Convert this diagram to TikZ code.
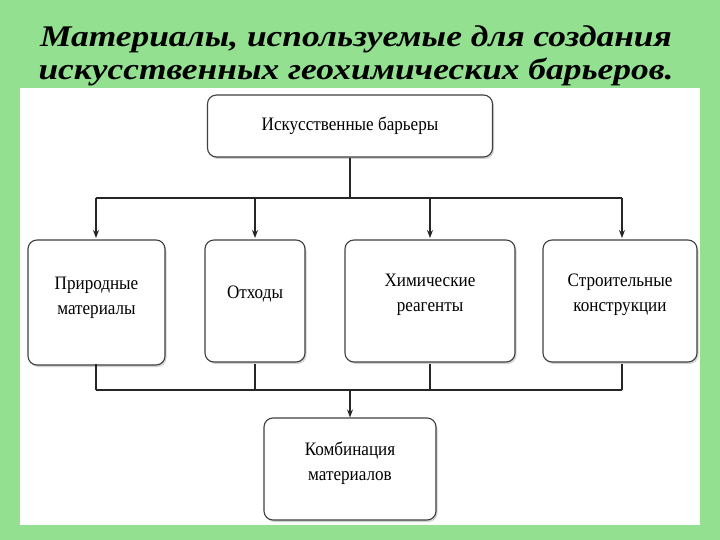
\documentclass[tikz,border=0pt]{standalone}
\usepackage{fontspec}
\setmainfont{Liberation Serif}
\usetikzlibrary{shadows,arrows.meta}
\definecolor{bg}{HTML}{93E091}
\begin{document}
\begin{tikzpicture}[x=1pt,y=-1pt,
  box/.style={draw=black!75,line width=1.1pt,rounded corners=9pt,fill=white,
    drop shadow={opacity=0.35,shadow xshift=1.5pt,shadow yshift=-2pt},
    inner sep=0pt},
  lbl/.style={align=center,font=\fontsize{19}{25}\selectfont,xscale=0.9},
  conn/.style={line width=1.1pt,draw=black!85},
  arr/.style={conn,-{Stealth[length=8pt,width=6pt]}}]
\fill[bg] (0,0) rectangle (720,540);
\useasboundingbox (0,0) rectangle (720,540);
\fill[white] (20,88) rectangle (700,525);
\node[font=\fontsize{30}{33}\selectfont\bfseries\itshape,align=center,xscale=1.18] (title) at (356,56)
 {Материалы, используемые для создания\\искусственных геохимических барьеров.};
\node[box,minimum width=285pt,minimum height=62pt] (top) at (350,126) {};
\node[lbl] (topt) at (top) {Искусственные барьеры};
\node[box,minimum width=137pt,minimum height=125pt] (b1) at (96.5,302.5) {};
\node[lbl] (b1t) at (96.5,298) {Природные\\материалы};
\node[box,minimum width=100pt,minimum height=122pt] (b2) at (255,301) {};
\node[lbl] (b2t) at (255,294) {Отходы};
\node[box,minimum width=170pt,minimum height=122pt] (b3) at (430,301) {};
\node[lbl] (b3t) at (430,295) {Химические\\реагенты};
\node[box,minimum width=154pt,minimum height=122pt] (b4) at (620,301) {};
\node[lbl] (b4t) at (620,295) {Строительные\\конструкции};
\node[box,minimum width=172pt,minimum height=102pt] (b5) at (350,469) {};
\node[lbl] (b5t) at (350,463) {Комбинация\\материалов};
\coordinate (j1) at (350,198);
\coordinate (j2) at (350,390);
\draw[conn] (top.south) -- (j1);
\draw[conn] (96,198) -- (622,198);
\foreach \x in {96,255,430,622}{
  \draw[arr] (\x,198) -- (\x,238);
  \draw[conn] (\x,364) -- (\x,390);
}
\draw[conn] (96,390) -- (622,390);
\draw[arr] (j2) -- (b5.north);
\end{tikzpicture}
\end{document}
